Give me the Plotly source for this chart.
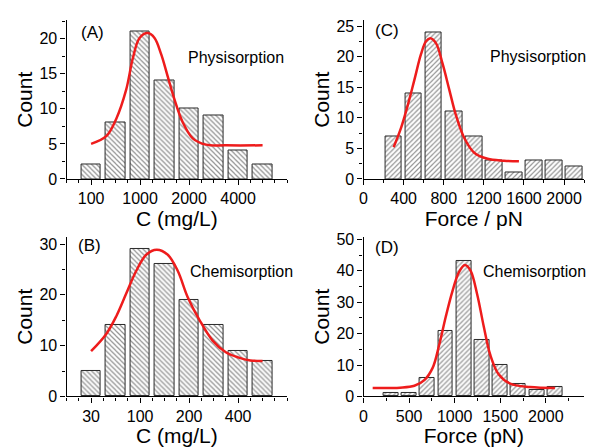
import plotly.graph_objects as go

# ---------------- data ----------------
# Panel A (Physisorption, concentration bins)
A_pos = [0, 1, 2, 3, 4, 5, 6, 7]
A_counts = [2, 8, 21, 14, 10, 9, 4, 2]
A_tickvals = [0, 2, 4, 6]
A_ticktext = ["100", "1000", "2000", "4000"]
A_fit_x = [0.0, 0.62, 1.03, 1.43, 1.71, 1.98, 2.32, 2.59, 2.86, 3.13, 3.40, 3.74, 4.15, 4.69, 5.5, 7.0]
A_fit_y = [5.0, 6.1, 8.6, 12.7, 17.3, 20.1, 20.8, 20.1, 17.8, 14.6, 11.4, 8.1, 5.8, 4.9, 4.8, 4.8]

# Panel B (Chemisorption, concentration bins)
B_pos = [0, 1, 2, 3, 4, 5, 6, 7]
B_counts = [5, 14, 29, 26, 19, 14, 9, 7]
B_tickvals = [0, 2, 4, 6]
B_ticktext = ["30", "100", "200", "400"]
B_fit_x = [0.0, 0.62, 1.03, 1.43, 1.84, 2.25, 2.68, 3.13, 3.54, 3.94, 4.42, 4.96, 5.5, 6.0, 6.5, 7.0]
B_fit_y = [8.9, 12.3, 15.8, 20.2, 24.7, 27.9, 28.9, 27.9, 24.7, 19.6, 15.1, 11.0, 8.7, 7.7, 7.1, 7.0]

# Panel C (Physisorption, force bins)
C_centers = [300, 500, 700, 900, 1100, 1300, 1500, 1700, 1900, 2100]
C_counts = [7, 14, 24, 11, 7, 3, 1, 3, 3, 2]
C_fit_x = [300, 373, 440, 507, 573, 623, 666, 722, 789, 855, 922, 1005, 1104, 1237, 1400, 1550]
C_fit_y = [5.2, 8.3, 12.0, 16.2, 20.4, 22.5, 23.0, 22.2, 18.8, 14.6, 10.4, 6.7, 4.3, 3.3, 3.0, 2.9]

# Panel D (Chemisorption, force bins)
D_centers = [300, 500, 700, 900, 1100, 1300, 1500, 1700, 1900, 2100]
D_counts = [1, 1, 6, 21, 43, 18, 10, 4, 2, 3]
D_fit_x = [100, 400, 558, 667, 758, 829, 902, 975, 1047, 1112, 1174, 1247, 1319, 1391, 1482, 1609, 1826, 2100]
D_fit_y = [2.7, 2.8, 3.4, 5.2, 9.1, 16.3, 25.4, 33.5, 39.6, 41.9, 40.1, 32.5, 22.3, 13.2, 7.1, 4.1, 3.0, 2.7]

# ---------------- style ----------------
W, H = 595, 447
FONT = "Liberation Sans, Arial, sans-serif"
RED = "#ee1c1c"
EDGE = "#2a2a2a"


def px_x(p):
    return p / W


def px_y(p):
    return 1 - p / H


def bar(x, y, width, shape, xa, ya):
    return go.Bar(
        x=x, y=y, width=width, xaxis=xa, yaxis=ya,
        marker=dict(color="white", line=dict(color=EDGE, width=1),
                    pattern=dict(shape=shape, fgcolor="#2a2a2a", bgcolor="white",
                                 size=3.5, solidity=0.35)),
        showlegend=False, hoverinfo="skip")


def fit(x, y, xa, ya):
    return go.Scatter(x=x, y=y, xaxis=xa, yaxis=ya, mode="lines",
                      line=dict(color=RED, width=2.5, shape="spline", smoothing=1.0),
                      showlegend=False, hoverinfo="skip")


fig = go.Figure()
fig.add_trace(bar(A_pos, A_counts, 0.81, "\\", "x", "y"))
fig.add_trace(fit(A_fit_x, A_fit_y, "x", "y"))
fig.add_trace(bar(C_centers, C_counts, 166, "/", "x2", "y2"))
fig.add_trace(fit(C_fit_x, C_fit_y, "x2", "y2"))
fig.add_trace(bar(B_pos, B_counts, 0.81, "\\", "x3", "y3"))
fig.add_trace(fit(B_fit_x, B_fit_y, "x3", "y3"))
fig.add_trace(bar(D_centers, D_counts, 164, "/", "x4", "y4"))
fig.add_trace(fit(D_fit_x, D_fit_y, "x4", "y4"))

tickfont = dict(family=FONT, size=16, color="black")
titlefont = dict(family=FONT, size=21, color="black")


def xaxis(domain, anchor, rng, title, tickvals=None, ticktext=None, dtick=None,
          minor_dtick=None):
    d = dict(domain=domain, anchor=anchor, range=rng, showgrid=False, zeroline=False,
             showline=True, linecolor="black", linewidth=1.2, ticks="outside",
             ticklen=5, tickwidth=1.2, tickcolor="black", tickfont=tickfont,
             title=dict(text=title, font=titlefont, standoff=1),
             minor=dict(ticks="outside", ticklen=3, tickwidth=1, tickcolor="black",
                        dtick=minor_dtick, tick0=0, showgrid=False))
    if tickvals is not None:
        d.update(tickmode="array", tickvals=tickvals, ticktext=ticktext)
    else:
        d.update(tickmode="linear", tick0=0, dtick=dtick)
    return d


def yaxis(domain, anchor, rng, dtick):
    return dict(domain=domain, anchor=anchor, range=rng, showgrid=False, zeroline=False,
                showline=True, linecolor="black", linewidth=1.2, ticks="outside",
                ticklen=5, tickwidth=1.2, tickcolor="black", tickfont=tickfont,
                tickmode="linear", tick0=0, dtick=dtick,
                title=dict(text="Count", font=titlefont, standoff=1),
                minor=dict(ticks="outside", ticklen=3, tickwidth=1, tickcolor="black",
                           dtick=dtick / 2, tick0=0, showgrid=False))


xl = [px_x(63), px_x(285)]
xr = [px_x(362), px_x(584)]
yt = [px_y(179), px_y(15)]
yb = [px_y(404), px_y(239)]

fig.update_layout(
    width=W, height=H, margin=dict(l=0, r=0, t=0, b=0),
    paper_bgcolor="white", plot_bgcolor="white", bargap=0,
    font=dict(family=FONT, color="black"),
    xaxis=xaxis(xl, "y", [-1, 8], "C (mg/L)", A_tickvals, A_ticktext, minor_dtick=0.5),
    yaxis=yaxis(yt, "x", [0, 22.6], 5),
    xaxis2=xaxis(xr, "y2", [0, 2200], "Force / pN", dtick=400, minor_dtick=200),
    yaxis2=yaxis(yt, "x2", [0, 25.9], 5),
    xaxis3=xaxis(xl, "y3", [-1, 8], "C (mg/L)", B_tickvals, B_ticktext, minor_dtick=0.5),
    yaxis3=yaxis(yb, "x3", [0, 31.4], 10),
    xaxis4=xaxis(xr, "y4", [0, 2420], "Force (pN)", dtick=500, minor_dtick=250),
    yaxis4=yaxis(yb, "x4", [0, 50.8], 10),
)

labels = [
    ("(A)", 76, 27, 17), ("Physisorption", 183, 53, 16),
    ("(C)", 372, 25, 17), ("Physisorption", 487, 52, 16),
    ("(B)", 72, 248, 17), ("Chemisorption", 185, 275, 16),
    ("(D)", 372, 250, 17), ("Chemisorption", 480, 275, 16),
]
for text, lx, ly, sz in labels:
    fig.add_annotation(text=text, x=px_x(lx), y=px_y(ly), xref="paper", yref="paper",
                       xanchor="left", yanchor="middle", showarrow=False,
                       font=dict(family=FONT, size=sz, color="black"))

fig.write_html("out.html")
